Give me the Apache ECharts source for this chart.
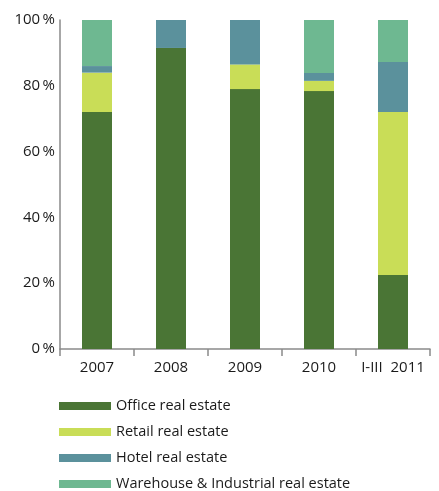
<!DOCTYPE html>
<html><head><meta charset="utf-8">
<script src="https://cdn.jsdelivr.net/npm/echarts@6/dist/echarts.min.js"></script>
<style>html,body{margin:0;padding:0;background:#fff}#c{width:439px;height:491px}</style>
</head><body><div id="c"></div>
<script>
const categories = ['2007', '2008', '2009', '2010', 'I-III  2011'];
const office = [72, 91.5, 79, 78.4, 22.5];
const retail = [12, 0, 7.5, 3.1, 49.5];
const hotel = [2, 8.5, 13.5, 2.4, 15.2];
const warehouse = [14, 0, 0, 16.1, 12.8];
const seriesNames = ['Office real estate', 'Retail real estate', 'Hotel real estate', 'Warehouse & Industrial real estate'];
const yTicks = [0, 20, 40, 60, 80, 100];

const colors = ['#4a7535', '#c9dd57', '#5b919c', '#6eb891'];
const font = 'Open Sans';
const chart = echarts.init(document.getElementById('c'));
const data = [office, retail, hotel, warehouse];
const legendTops = [398, 424, 450, 476];
chart.setOption({
  animation: false,
  grid: {left: 60, right: 9, top: 20, bottom: 142},
  xAxis: {
    type: 'category', data: categories, boundaryGap: true,
    axisLine: {lineStyle: {color: '#8a8a8a', width: 1.5}},
    axisTick: {show: true, interval: 0, length: 7, lineStyle: {color: '#8a8a8a', width: 1.5}},
    axisLabel: {interval: 0, color: '#1a1a1a', fontSize: 15, fontFamily: font, margin: 11}
  },
  yAxis: {
    type: 'value', min: 0, max: 100, interval: 20,
    axisLine: {show: true, lineStyle: {color: '#8a8a8a', width: 1.5}},
    axisTick: {show: false},
    splitLine: {show: false},
    axisLabel: {color: '#1a1a1a', fontSize: 15, fontFamily: font, margin: 5,
      formatter: v => yTicks.includes(v) ? v + '\u2009%' : ''}
  },
  legend: seriesNames.map((n, i) => ({
    data: [n], left: 59, top: legendTops[i], itemWidth: 52, itemHeight: 8,
    icon: 'rect', itemGap: 0, padding: 0,
    textStyle: {color: '#1a1a1a', fontSize: 14.5, lineHeight: 16, fontFamily: font}
  })),
  series: seriesNames.map((n, i) => ({
    name: n, type: 'bar', stack: 'a', barWidth: 30,
    itemStyle: {color: colors[i]},
    data: data[i]
  }))
});
</script></body></html>
